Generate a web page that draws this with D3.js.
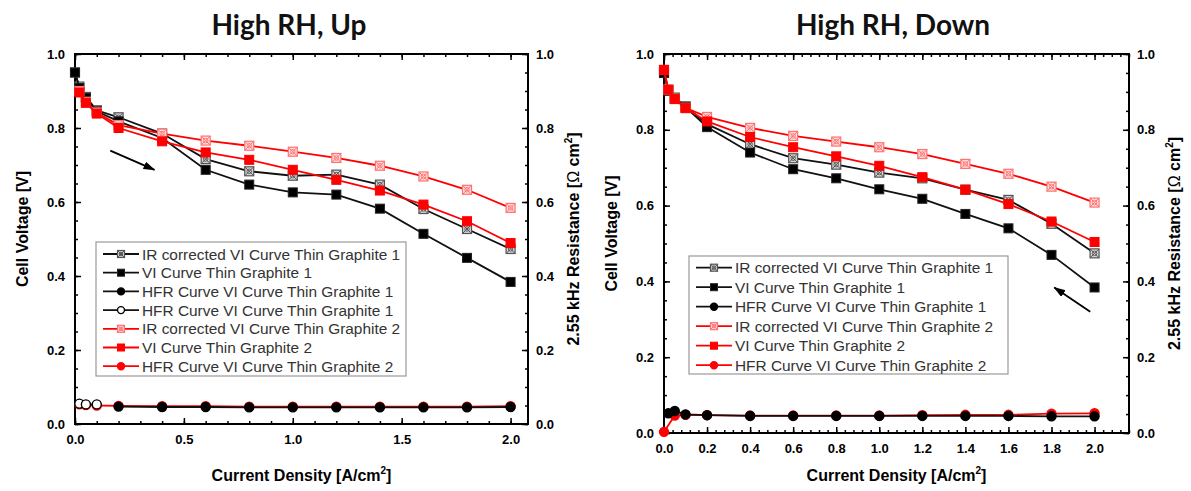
<!DOCTYPE html>
<html>
<head>
<meta charset="utf-8">
<script src="https://cdn.jsdelivr.net/npm/d3@7"></script>
<style>
  body { margin: 0; background: #fff; }
  svg text { font-family: "Liberation Sans", Arial, sans-serif; }
  .tick text { font-weight: bold; font-size: 13px; fill: #000; }
  .tick line { stroke: #000; stroke-width: 1.5px; }
</style>
</head>
<body>
<svg id="chart" width="1191" height="491"></svg>
<script>
// current density steps [A/cm2]
var current = [0, 0.02, 0.05, 0.1, 0.2, 0.4, 0.6, 0.8, 1.0, 1.2, 1.4, 1.6, 1.8, 2.0];

// High RH, Up
var upIrG1   = [0.950, 0.912, 0.884, 0.848, 0.829, 0.785, 0.716, 0.683, 0.671, 0.674, 0.647, 0.581, 0.527, 0.473];
var upViG1   = [0.950, 0.908, 0.881, 0.845, 0.818, 0.773, 0.687, 0.647, 0.626, 0.620, 0.582, 0.514, 0.449, 0.384];
var upHfrG1  = [null, null, null, null, 0.047, 0.046, 0.046, 0.045, 0.045, 0.045, 0.045, 0.045, 0.045, 0.046];
var upHfrG1b = [null, 0.055, 0.053, 0.053, null, null, null, null, null, null, null, null, null, null];
var upIrG2   = [null, 0.900, 0.871, 0.842, 0.808, 0.785, 0.766, 0.752, 0.736, 0.719, 0.698, 0.669, 0.633, 0.584];
var upViG2   = [null, 0.896, 0.868, 0.839, 0.800, 0.764, 0.734, 0.714, 0.687, 0.660, 0.631, 0.593, 0.548, 0.489];
var upHfrG2  = [null, 0.053, 0.051, 0.050, 0.049, 0.048, 0.048, 0.047, 0.047, 0.047, 0.047, 0.047, 0.047, 0.048];

// High RH, Down
var downIrG1  = [0.950, 0.905, 0.885, 0.862, 0.815, 0.762, 0.725, 0.708, 0.687, 0.672, 0.642, 0.615, 0.552, 0.474];
var downViG1  = [0.950, 0.903, 0.882, 0.860, 0.807, 0.740, 0.696, 0.672, 0.643, 0.618, 0.578, 0.540, 0.470, 0.384];
var downHfrG1 = [null, 0.052, 0.058, 0.049, 0.047, 0.045, 0.045, 0.045, 0.045, 0.045, 0.045, 0.045, 0.044, 0.044];
var downIrG2  = [0.958, 0.906, 0.882, 0.858, 0.834, 0.805, 0.784, 0.769, 0.754, 0.736, 0.710, 0.684, 0.650, 0.608];
var downViG2  = [0.958, 0.906, 0.881, 0.857, 0.822, 0.781, 0.754, 0.730, 0.705, 0.675, 0.642, 0.604, 0.558, 0.504];
var downHfrG2 = [0.003, null, 0.046, 0.048, 0.047, 0.046, 0.046, 0.046, 0.046, 0.047, 0.048, 0.048, 0.051, 0.052];

var names = {
  irG1: 'IR corrected VI Curve Thin Graphite 1',
  viG1: 'VI Curve Thin Graphite 1',
  hfrG1: 'HFR Curve VI Curve Thin Graphite 1',
  irG2: 'IR corrected VI Curve Thin Graphite 2',
  viG2: 'VI Curve Thin Graphite 2',
  hfrG2: 'HFR Curve VI Curve Thin Graphite 2'
};

var styles = {
  irG1:  {line: '#111', shape: 'xsq', stroke: '#555', fill: '#d4d4d4'},
  viG1:  {line: '#111', shape: 'sq', stroke: '#222', fill: '#000'},
  hfrG1: {line: '#111', shape: 'circle', stroke: '#000', fill: '#000'},
  hfrG1b:{line: '#111', shape: 'circle', stroke: '#000', fill: '#fff'},
  irG2:  {line: '#f00', shape: 'xsq', stroke: '#ff7373', fill: '#ffdcdc'},
  viG2:  {line: '#f00', shape: 'sq', stroke: '#f00', fill: '#f00'},
  hfrG2: {line: '#f00', shape: 'circle', stroke: '#f00', fill: '#f00'}
};

var panels = [
  {
    title: 'High RH, Up', titleX: 289,
    left: 75, top: 54, right: 528, bottom: 424,
    xMax: 2.08, xStep: 0.5, xMinor: 0.1,
    draw: [['irG1', upIrG1], ['viG1', upViG1], ['irG2', upIrG2], ['viG2', upViG2],
           ['hfrG2', upHfrG2], ['hfrG1b', upHfrG1b], ['hfrG1', upHfrG1]],
    legend: ['irG1', 'viG1', 'hfrG1', 'hfrG1b', 'irG2', 'viG2', 'hfrG2'],
    box: {x: 96, y: 242, w: 310, h: 134, first: 12, row: 18.7},
    arrow: [[0.162, 0.739], [0.365, 0.687]]
  },
  {
    title: 'High RH, Down', titleX: 893,
    left: 664, top: 54, right: 1129, bottom: 433,
    xMax: 2.16, xStep: 0.2, xMinor: 0.04,
    draw: [['irG1', downIrG1], ['viG1', downViG1], ['irG2', downIrG2], ['viG2', downViG2],
           ['hfrG2', downHfrG2], ['hfrG1', downHfrG1]],
    legend: ['irG1', 'viG1', 'hfrG1', 'irG2', 'viG2', 'hfrG2'],
    box: {x: 689, y: 256, w: 319, h: 118, first: 11.7, row: 19.5},
    arrow: [[1.98, 0.32], [1.813, 0.384]]
  }
];

var svg = d3.select('#chart');

svg.append('defs').append('marker')
    .attr('id', 'head')
    .attr('markerUnits', 'userSpaceOnUse')
    .attr('markerWidth', 12).attr('markerHeight', 9)
    .attr('refX', 11).attr('refY', 4)
    .attr('orient', 'auto')
  .append('path')
    .attr('d', 'M0,0L12,4L0,8Z')
    .attr('fill', '#000');

function marker(sel, st, size) {
  var h = size / 2;
  if (st.shape === 'circle') {
    sel.append('circle').attr('r', h)
      .attr('fill', st.fill).attr('stroke', st.stroke).attr('stroke-width', 1.4);
  } else if (st.shape === 'sq') {
    sel.append('rect').attr('x', -h).attr('y', -h).attr('width', size).attr('height', size)
      .attr('fill', st.fill).attr('stroke', st.stroke).attr('stroke-width', 1);
  } else {
    sel.append('rect').attr('x', -h).attr('y', -h).attr('width', size).attr('height', size)
      .attr('fill', st.fill).attr('stroke', st.stroke).attr('stroke-width', 1.2);
    sel.append('path')
      .attr('d', 'M' + (-h) + ',' + (-h) + 'L' + h + ',' + h + 'M' + h + ',' + (-h) + 'L' + (-h) + ',' + h)
      .attr('stroke', st.stroke).attr('stroke-width', 1);
    sel.append('circle').attr('r', h * 0.5)
      .attr('fill', 'none').attr('stroke', st.stroke).attr('stroke-width', 0.9);
  }
}

function steps(max, step) {
  var n = Math.floor(max / step + 1e-6);
  return d3.range(n + 1).map(function(i) { return +(i * step).toFixed(4); });
}

panels.forEach(function(p) {
  var g = svg.append('g');
  var x = d3.scaleLinear().domain([0, p.xMax]).range([p.left, p.right]),
      y = d3.scaleLinear().domain([0, 1]).range([p.bottom, p.top]),
      xMajor = steps(2.0, p.xStep),
      xMinor = steps(p.xMax, p.xMinor),
      yMajor = steps(1, 0.2),
      yMinor = steps(1, 0.05),
      fmt = d3.format('.1f');

  function axis(gen, scale, vals, size, pad, labels, tx, ty) {
    var a = gen(scale).tickValues(vals).tickSize(-size).tickPadding(pad)
      .tickFormat(labels ? fmt : '');
    var s = g.append('g').attr('transform', 'translate(' + tx + ',' + ty + ')').call(a);
    s.select('.domain').remove();
    return s;
  }

  axis(d3.axisBottom, x, xMinor, 3, 0, false, 0, p.bottom);
  axis(d3.axisBottom, x, xMajor, 6, 11, true, 0, p.bottom);
  axis(d3.axisTop, x, xMinor, 3, 0, false, 0, p.top);
  axis(d3.axisTop, x, xMajor, 6, 0, false, 0, p.top);
  axis(d3.axisLeft, y, yMinor, 3, 0, false, p.left, 0);
  axis(d3.axisLeft, y, yMajor, 6, 10, true, p.left, 0);
  axis(d3.axisRight, y, yMinor, 3, 0, false, p.right, 0);
  axis(d3.axisRight, y, yMajor, 6, 8, true, p.right, 0);

  g.append('rect')
    .attr('x', p.left).attr('y', p.top)
    .attr('width', p.right - p.left).attr('height', p.bottom - p.top)
    .attr('fill', 'none').attr('stroke', '#000').attr('stroke-width', 2);

  // series
  var line = d3.line()
    .defined(function(d) { return d[1] !== null; })
    .x(function(d) { return x(d[0]); })
    .y(function(d) { return y(d[1]); });

  p.draw.forEach(function(s) {
    var st = styles[s[0]];
    var pts = current.map(function(c, i) { return [c, s[1][i]]; });
    var kept = pts.filter(function(d) { return d[1] !== null; });
    g.append('path').datum(kept)
      .attr('d', line)
      .attr('fill', 'none').attr('stroke', st.line).attr('stroke-width', 1.8);
    g.selectAll(null).data(kept).enter().append('g')
      .attr('transform', function(d) { return 'translate(' + x(d[0]) + ',' + y(d[1]) + ')'; })
      .each(function() { marker(d3.select(this), st, 9); });
  });

  // arrow
  g.append('line')
    .attr('x1', x(p.arrow[0][0])).attr('y1', y(p.arrow[0][1]))
    .attr('x2', x(p.arrow[1][0])).attr('y2', y(p.arrow[1][1]))
    .attr('stroke', '#000').attr('stroke-width', 1.8)
    .attr('marker-end', 'url(#head)');

  // legend
  var b = p.box;
  var lg = g.append('g');
  lg.append('rect').attr('x', b.x).attr('y', b.y).attr('width', b.w).attr('height', b.h)
    .attr('fill', '#fff').attr('stroke', '#999').attr('stroke-width', 1.2);
  p.legend.forEach(function(key, i) {
    var st = styles[key], ry = b.y + b.first + i * b.row;
    lg.append('line').attr('x1', b.x + 7).attr('x2', b.x + 43).attr('y1', ry).attr('y2', ry)
      .attr('stroke', st.line).attr('stroke-width', 1.8);
    var m = lg.append('g').attr('transform', 'translate(' + (b.x + 25) + ',' + ry + ')');
    marker(m, st, 7);
    lg.append('text').attr('x', b.x + 46).attr('y', ry).attr('dy', '0.36em')
      .attr('font-size', 15.4).attr('fill', '#333')
      .text(names[key === 'hfrG1b' ? 'hfrG1' : key]);
  });

  // titles and axis labels
  g.append('text').attr('x', p.titleX).attr('y', 35).attr('text-anchor', 'middle')
    .style('font-family', 'Lato, "Open Sans", sans-serif')
    .attr('font-weight', 'bold').attr('font-size', 28).attr('fill', '#111')
    .text(p.title);

  var xl = g.append('text').attr('x', (p.left + p.right) / 2).attr('y', 481)
    .attr('text-anchor', 'middle').attr('font-weight', 'bold').attr('font-size', 16);
  xl.append('tspan').text('Current Density [A/cm');
  xl.append('tspan').attr('font-size', 10).attr('dy', -7).text('2');
  xl.append('tspan').attr('dy', 7).text(']');

  var midY = (p.top + p.bottom) / 2;
  g.append('text')
    .attr('transform', 'translate(' + (p.left - 47) + ',' + (midY - 10) + ') rotate(-90)')
    .attr('text-anchor', 'middle').attr('font-weight', 'bold').attr('font-size', 16)
    .text('Cell Voltage [V]');

  var rl = g.append('text')
    .attr('transform', 'translate(' + (p.right + 51) + ',' + midY + ') rotate(-90)')
    .attr('text-anchor', 'middle').attr('font-weight', 'bold').attr('font-size', 16);
  rl.append('tspan').text('2.55 kHz Resistance [');
  rl.append('tspan').attr('font-weight', 'normal').text('\u03A9');
  rl.append('tspan').text(' cm');
  rl.append('tspan').attr('font-size', 10).attr('dy', -7).text('2');
  rl.append('tspan').attr('dy', 7).text(']');
});
</script>
</body>
</html>
